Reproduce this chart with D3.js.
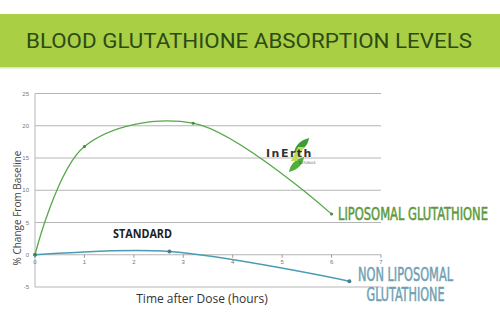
<!DOCTYPE html>
<html>
<head>
<meta charset="utf-8">
<script src="https://cdn.jsdelivr.net/npm/d3@7"></script>
<style>
  body { margin: 0; background: #fff; }
  svg { display: block; }
</style>
</head>
<body>
<div id="svg-holder"></div>
<script>
var width = 500;
var height = 320;

// chart values
var xTicks = [0, 1, 2, 3, 4, 5, 6, 7];
var yTicks = [-5, 0, 5, 10, 15, 20, 25];
var lipoHours = [0, 1, 3.2, 6];
var lipoValues = [0, 16.8, 20.4, 6.3];
var nonLipoHours = [0, 2.72, 6.36];
var nonLipoValues = [0, 0.5, -4.1];

var svg = d3.select('#svg-holder').append('svg')
            .attr("width", width)
            .attr("height", height);

var x = d3.scaleLinear().domain([0, 7]).range([35, 381]);
var y = d3.scaleLinear().domain([-5, 25]).range([287, 93.5]);

// title band
svg.append('rect')
    .attr('x', 0).attr('y', 14)
    .attr('width', width).attr('height', 53)
    .attr('fill', '#a9cf45');
svg.append('rect')
    .attr('x', 0).attr('y', 67)
    .attr('width', width).attr('height', 1.5)
    .attr('fill', '#d8e8b0');
svg.append('text')
    .attr('x', 26).attr('y', 47.5)
    .attr('textLength', 446)
    .attr('lengthAdjust', 'spacingAndGlyphs')
    .attr('font-family', 'Roboto, sans-serif')
    .attr('font-size', 20.5)
    .attr('fill', '#2e4a14')
    .text('BLOOD GLUTATHIONE ABSORPTION LEVELS');

// grid lines
svg.selectAll('line.grid')
    .data(yTicks)
    .enter().append('line')
    .attr('class', 'grid')
    .attr('x1', x(0)).attr('x2', x(7))
    .attr('y1', function(d) { return y(d); })
    .attr('y2', function(d) { return y(d); })
    .attr('stroke', '#b5b5b5')
    .attr('stroke-width', 1);

// left axis line
svg.append('line')
    .attr('x1', x(0)).attr('x2', x(0))
    .attr('y1', y(25)).attr('y2', y(-5))
    .attr('stroke', '#b5b5b5');

// y tick labels
svg.selectAll('text.ytick')
    .data(yTicks)
    .enter().append('text')
    .attr('class', 'ytick')
    .attr('x', 29)
    .attr('y', function(d) { return y(d) + 2; })
    .attr('text-anchor', 'end')
    .attr('font-family', 'Liberation Sans, sans-serif')
    .attr('font-size', 6)
    .attr('fill', '#777')
    .text(function(d) { return d; });

// x ticks on the zero line
svg.selectAll('line.xtick')
    .data(xTicks)
    .enter().append('line')
    .attr('class', 'xtick')
    .attr('x1', function(d) { return x(d); })
    .attr('x2', function(d) { return x(d); })
    .attr('y1', y(0)).attr('y2', y(0) + 3)
    .attr('stroke', '#999');
svg.selectAll('text.xtick')
    .data(xTicks)
    .enter().append('text')
    .attr('class', 'xtick')
    .attr('x', function(d) { return x(d); })
    .attr('y', y(0) + 9)
    .attr('text-anchor', 'middle')
    .attr('font-family', 'Liberation Sans, sans-serif')
    .attr('font-size', 6)
    .attr('fill', '#777')
    .text(function(d) { return d; });

// axis titles
svg.append('text')
    .attr('transform', 'translate(21,208) rotate(-90)')
    .attr('text-anchor', 'middle')
    .attr('font-family', 'Open Sans, sans-serif')
    .attr('font-size', 10)
    .attr('fill', '#444')
    .text('% Change From Baseline');
svg.append('text')
    .attr('x', 202).attr('y', 303)
    .attr('text-anchor', 'middle')
    .attr('font-family', 'Open Sans, sans-serif')
    .attr('font-size', 12)
    .attr('fill', '#333')
    .text('Time after Dose (hours)');

// logo
var logo = svg.append('g');
logo.append('path')
    .attr('d', 'M294,153 C295,145 301,140 309,138 C308,146 302,151 294,153 Z')
    .attr('fill', '#3f9a3a');
logo.append('path')
    .attr('d', 'M289,172 C290,164 296,159 304,157 C303,165 297,170 289,172 Z')
    .attr('fill', '#4fae3c');
logo.append('path')
    .attr('d', 'M291,161 L298,147 L304,147 L297,161 Z')
    .attr('fill', '#c0dc50');
logo.append('text')
    .attr('x', 266).attr('y', 157)
    .attr('font-family', 'DejaVu Sans, sans-serif')
    .attr('font-weight', 'bold')
    .attr('font-size', 11)
    .attr('letter-spacing', 1.5)
    .attr('fill', '#333')
    .text('InErth');
logo.append('text')
    .attr('x', 299).attr('y', 164)
    .attr('font-family', 'DejaVu Sans Condensed, sans-serif')
    .attr('font-size', 3.5)
    .attr('fill', '#555')
    .text('NATURALS');

// series lines
function series(hours, values) {
    return hours.map(function(h, i) { return [h, values[i]]; });
}

var line = d3.line()
    .x(function(d) { return x(d[0]); })
    .y(function(d) { return y(d[1]); })
    .curve(d3.curveCatmullRom.alpha(0.5));

var lipo = series(lipoHours, lipoValues);
var nonLipo = series(nonLipoHours, nonLipoValues);

svg.append('path')
    .datum(nonLipo)
    .attr('d', line)
    .attr('fill', 'none')
    .attr('stroke', '#4a9cb4')
    .attr('stroke-width', 1.5);
svg.selectAll('circle.nonlipo')
    .data(nonLipo)
    .enter().append('circle')
    .attr('class', 'nonlipo')
    .attr('cx', function(d) { return x(d[0]); })
    .attr('cy', function(d) { return y(d[1]); })
    .attr('r', 2)
    .attr('fill', '#4a7f92');

svg.append('path')
    .datum(lipo)
    .attr('d', line)
    .attr('fill', 'none')
    .attr('stroke', '#55a948')
    .attr('stroke-width', 1.3);
svg.selectAll('circle.lipo')
    .data(lipo)
    .enter().append('circle')
    .attr('class', 'lipo')
    .attr('cx', function(d) { return x(d[0]); })
    .attr('cy', function(d) { return y(d[1]); })
    .attr('r', 1.5)
    .attr('fill', '#3f8a3a');

// series labels (regular condensed with a thin outline = medium weight)
function label(txt, lx, ly, len, size, color) {
    svg.append('text')
        .attr('x', lx).attr('y', ly)
        .attr('textLength', len)
        .attr('lengthAdjust', 'spacingAndGlyphs')
        .attr('font-family', 'DejaVu Sans Condensed, sans-serif')
        .attr('font-size', size)
        .attr('fill', color)
        .attr('stroke', color)
        .attr('stroke-width', 0.5)
        .text(txt);
}
label('LIPOSOMAL GLUTATHIONE', 338, 220, 150, 17, '#5b9a3a');
label('NON LIPOSOMAL', 358, 281, 95, 19, '#6f9fb4');
label('GLUTATHIONE', 366.5, 301, 78, 19, '#6f9fb4');

svg.append('text')
    .attr('x', 113).attr('y', 237.5)
    .attr('textLength', 59)
    .attr('lengthAdjust', 'spacingAndGlyphs')
    .attr('font-family', 'Open Sans, sans-serif')
    .attr('font-weight', 'bold')
    .attr('font-size', 11.5)
    .attr('fill', '#222')
    .text('STANDARD');
</script>
</body>
</html>
